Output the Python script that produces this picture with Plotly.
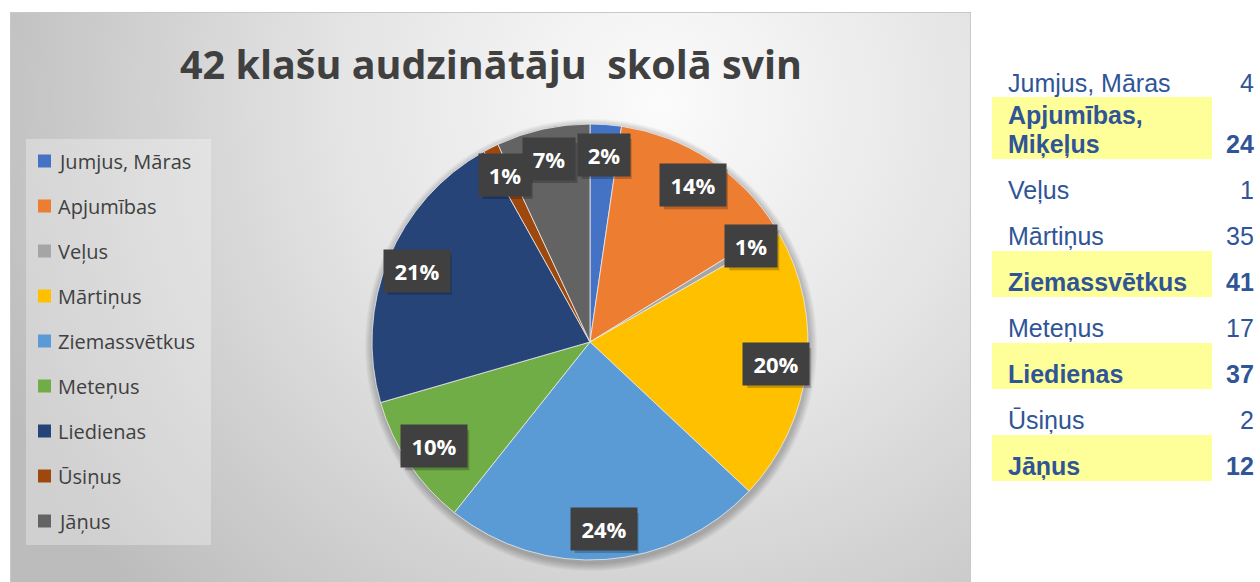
import base64
import math
import plotly.graph_objects as go

# ---- data -----------------------------------------------------------------
labels = ["Jumjus, Māras", "Apjumības", "Veļus", "Mārtiņus", "Ziemassvētkus",
          "Meteņus", "Liedienas", "Ūsiņus", "Jāņus"]
table_labels = ["Jumjus, Māras", "Apjumības,\nMiķeļus", "Veļus", "Mārtiņus",
                "Ziemassvētkus", "Meteņus", "Liedienas", "Ūsiņus", "Jāņus"]
values = [4, 24, 1, 35, 41, 17, 37, 2, 12]
highlighted = [False, True, False, False, True, False, True, False, True]
colors = ["#4472C4", "#ED7D31", "#A5A5A5", "#FFC000", "#5B9BD5",
          "#70AD47", "#264478", "#9E480E", "#636363"]
title = "42 klašu audzinātāju\u00a0 skolā svin"

W, H = 1260, 582


def px(x):
    return x / W


def py(y):
    return 1 - y / H


# ---- chart-area background (radial grey gradient) ---------------------------
area_x0, area_y0, area_x1, area_y1 = 10, 12, 971, 582
aw, ah = area_x1 - area_x0, area_y1 - area_y0
svg = f"""<svg xmlns='http://www.w3.org/2000/svg' width='{aw}' height='{ah}'>
<defs><radialGradient id='g' gradientUnits='userSpaceOnUse' cx='650' cy='90' r='720'>
<stop offset='0' stop-color='#fbfbfb'/><stop offset='0.45' stop-color='#e4e4e4'/>
<stop offset='1' stop-color='#bcbcbc'/></radialGradient></defs>
<rect width='{aw}' height='{ah}' fill='url(#g)'/>
<rect x='0.5' y='0.5' width='{aw-1}' height='{ah}' fill='none' stroke='#c8c8c8'/>
</svg>"""
bg_src = "data:image/svg+xml;base64," + base64.b64encode(svg.encode()).decode()

# ---- pie ------------------------------------------------------------------
cx, cy, R = 590, 342, 218
fig = go.Figure()
fig.add_trace(go.Pie(
    labels=labels, values=values, sort=False, direction="clockwise", rotation=0,
    marker=dict(colors=colors, line=dict(color="rgba(235,235,235,0.8)", width=1)),
    textinfo="none", showlegend=False, hoverinfo="label+value+percent",
    domain=dict(x=[px(cx - R), px(cx + R)], y=[py(cy + R), py(cy - R)]),
))

annotations = []
shapes = []

# soft shadow under the pie
for k in range(1, 9):
    r = R + k
    shapes.append(dict(type="circle", xref="paper", yref="paper",
                       x0=px(cx - r + 1), x1=px(cx + r + 1),
                       y0=py(cy + r + 3), y1=py(cy - r + 3),
                       fillcolor="rgba(0,0,0,0.03)", line=dict(width=0),
                       layer="below"))

# percentage labels in dark boxes
total = sum(values)
cum = 0
for v in values:
    mid = (cum + v / 2) / total * 2 * math.pi
    cum += v
    lx = cx + 0.86 * R * math.sin(mid)
    ly = cy - 0.86 * R * math.cos(mid)
    txt = f"{round(100 * v / total)}%"
    bw, bh = 22 + 14 * len(txt), 40
    # drop shadow of the box
    shapes.append(dict(type="rect", xref="paper", yref="paper",
                       x0=px(lx - bw / 2 + 3), x1=px(lx + bw / 2 + 3),
                       y0=py(ly + bh / 2 + 4), y1=py(ly - bh / 2 + 4),
                       fillcolor="rgba(0,0,0,0.22)", line=dict(width=0)))
    annotations.append(dict(
        x=px(lx), y=py(ly), xref="paper", yref="paper", showarrow=False,
        xanchor="center", yanchor="middle",
        text=f"<b>{txt}</b>", font=dict(size=22, color="white", family="Open Sans"),
        bgcolor="#404040", width=bw, height=bh))

# title
annotations.append(dict(
    x=px((area_x0 + area_x1) / 2), y=py(64), xref="paper", yref="paper",
    showarrow=False, xanchor="center", yanchor="middle", text=f"<b>{title}</b>",
    font=dict(size=39.5, color="#404040", family="Open Sans")))

# legend
shapes.append(dict(type="rect", xref="paper", yref="paper",
                   x0=px(26), x1=px(211), y0=py(545), y1=py(139),
                   fillcolor="rgba(255,255,255,0.3)", line=dict(width=0),
                   layer="below"))
for i, (name, col) in enumerate(zip(labels, colors)):
    iy = 161 + 45 * i
    shapes.append(dict(type="rect", xref="paper", yref="paper",
                       x0=px(38), x1=px(51), y0=py(iy + 6.5), y1=py(iy - 6.5),
                       fillcolor=col, line=dict(width=0)))
    annotations.append(dict(
        x=px(56), y=py(iy), xref="paper", yref="paper", showarrow=False,
        xanchor="left", yanchor="middle", text=name,
        font=dict(size=20, color="#404040", family="Open Sans")))

# value table on the right
blue = "#2F5597"
cursor = 83
for i, (name, v, hl) in enumerate(zip(table_labels, values, highlighted)):
    lines = name.split("\n")
    if i > 0:
        cursor += 46 if len(lines) == 1 else 32
    first = cursor
    cursor += 29 * (len(lines) - 1)
    last = cursor
    if hl:
        shapes.append(dict(type="rect", xref="paper", yref="paper",
                           x0=px(992), x1=px(1212),
                           y0=py(last + 15), y1=py(min(first - 18, last - 31)),
                           fillcolor="#FFFF99", line=dict(width=0), layer="below"))
    wrap = (lambda s: f"<b>{s}</b>") if hl else (lambda s: s)
    for k, ln in enumerate(lines):
        annotations.append(dict(
            x=px(1006), y=py(first + 29 * k), xref="paper", yref="paper",
            showarrow=False, xanchor="left", yanchor="middle", text=wrap(ln),
            font=dict(size=25, color=blue, family="Liberation Sans")))
    annotations.append(dict(
        x=px(1256), y=py(last), xref="paper", yref="paper", showarrow=False,
        xanchor="right", yanchor="middle", text=wrap(str(v)),
        font=dict(size=25, color=blue, family="Liberation Sans")))

fig.update_layout(
    width=W, height=H, margin=dict(l=0, r=0, t=0, b=0),
    paper_bgcolor="white", plot_bgcolor="white",
    images=[dict(source=bg_src, xref="paper", yref="paper",
                 x=px(area_x0), y=py(area_y0), sizex=aw / W, sizey=ah / H,
                 sizing="stretch", xanchor="left", yanchor="top", layer="below")],
    shapes=shapes, annotations=annotations,
)

fig.write_html("out.html")
